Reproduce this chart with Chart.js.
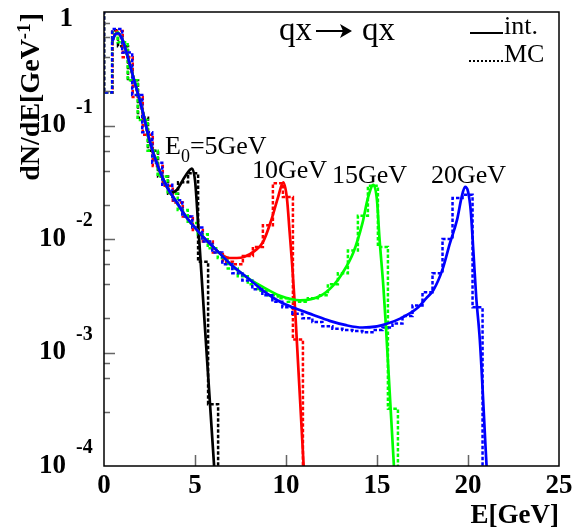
<!DOCTYPE html>
<html>
<head>
<meta charset="utf-8">
<script src="https://cdn.jsdelivr.net/npm/chart.js@4.4.1/dist/chart.umd.min.js"></script>
<style>
html, body { margin: 0; padding: 0; background: #fff; }
</style>
</head>
<body>
<canvas id="chart" width="573" height="531"></canvas>
<script>
// 1. data (E in GeV, dN/dE in 1/GeV)

// solid curves (int.) - shared low-energy part, then one tail per E0
const sharedE = [0.45, 0.6, 0.78, 1.0, 1.15, 1.6, 2.1, 2.5, 3.0, 3.5];
const sharedV = [0.55, 0.63, 0.65, 0.575, 0.49, 0.27, 0.138, 0.074, 0.042, 0.028];

const blackTailE = [3.7, 4.0, 4.45, 4.83, 5.0, 5.17, 5.27, 6.05, 6.15];
const blackTailV = [0.0255, 0.027, 0.0355, 0.0417, 0.033, 0.0138, 0.0079, 0.0001, 0.00006];

const redTailE = [4.0, 4.5, 5.0, 5.5, 6.0, 6.5, 6.9, 7.3, 7.65, 8.3, 8.75, 9.2, 9.55, 9.85, 10.05, 10.2, 10.35, 10.5, 10.97, 11.05];
const redTailV = [0.021, 0.0158, 0.0126, 0.0102, 0.0085, 0.0072, 0.0068, 0.0068, 0.0069, 0.0079, 0.0095, 0.0148, 0.0229, 0.0316, 0.0229, 0.0115, 0.0056, 0.0024, 0.0001, 0.00006];

const greenTailE = [4.0, 4.5, 5.0, 5.5, 6.0, 6.5, 7.0, 7.85, 8.7, 9.67, 10.77, 11.9, 12.6, 13.1, 13.7, 14.2, 14.5, 14.8, 15.0, 15.13, 15.35, 15.49, 15.93, 16.0];
const greenTailV = [0.021, 0.0158, 0.0126, 0.0102, 0.0085, 0.0071, 0.0059, 0.0046, 0.0038, 0.00316, 0.00288, 0.00316, 0.0039, 0.005, 0.0076, 0.0138, 0.0229, 0.03, 0.0219, 0.0105, 0.0038, 0.0017, 0.0001, 0.00006];

const blueTailE = [4.0, 4.5, 5.0, 5.5, 6.0, 6.5, 7.0, 7.85, 8.7, 9.67, 10.5, 11.5, 12.4, 13.3, 14.2, 15.0, 15.5, 16.3, 17.2, 17.7, 18.1, 18.6, 19.0, 19.4, 19.65, 19.84, 20.0, 20.15, 20.3, 20.45, 20.65, 21.02, 21.1];
const blueTailV = [0.021, 0.0158, 0.0126, 0.0102, 0.0085, 0.0071, 0.0059, 0.0046, 0.00355, 0.0028, 0.00245, 0.00214, 0.0019, 0.00174, 0.00166, 0.0017, 0.00178, 0.002, 0.00245, 0.003, 0.00355, 0.0054, 0.0091, 0.0148, 0.0234, 0.0288, 0.0263, 0.0178, 0.0076, 0.0031, 0.00129, 0.0001, 0.00006];

// MC histograms - bin edges and bin contents
const blackMcEdges = [0, 0.45, 0.77, 1.32, 1.87, 2.42, 2.97, 3.52, 4.07, 4.62, 5.17, 5.72, 6.27];
const blackMcVals = [0.195, 0.69, 0.5, 0.25, 0.117, 0.06, 0.0355, 0.025, 0.0316, 0.038, 0.0063, 0.00035];

const redMcEdges = [0, 0.48, 1.03, 1.58, 2.13, 2.68, 3.23, 3.78, 4.33, 4.88, 5.43, 5.98, 6.53, 7.08, 7.63, 8.18, 8.73, 9.28, 9.83, 10.38, 10.93];
const redMcVals = [0.195, 0.68, 0.4, 0.178, 0.083, 0.044, 0.0295, 0.021, 0.0158, 0.012, 0.0095, 0.0076, 0.0063, 0.006, 0.0071, 0.0085, 0.0132, 0.031, 0.0234, 0.0013];

const greenMcEdges = [0, 0.45, 0.75, 1.3, 1.85, 2.4, 2.95, 3.5, 4.05, 4.6, 5.15, 5.7, 6.25, 6.8, 7.35, 7.9, 8.45, 9.0, 9.55, 10.1, 10.65, 11.2, 11.75, 12.3, 12.85, 13.4, 13.95, 14.5, 15.05, 15.6, 16.15];
const greenMcVals = [0.195, 0.66, 0.54, 0.25, 0.112, 0.06, 0.0355, 0.025, 0.018, 0.0138, 0.011, 0.0083, 0.0068, 0.0055, 0.0047, 0.004, 0.0035, 0.0032, 0.003, 0.0028, 0.0028, 0.003, 0.0032, 0.004, 0.005, 0.0079, 0.016, 0.0295, 0.0085, 0.00032];

const blueMcEdges = [0, 0.45, 1.0, 1.55, 2.1, 2.65, 3.2, 3.75, 4.3, 4.85, 5.4, 5.95, 6.5, 7.05, 7.6, 8.15, 8.7, 9.25, 9.8, 10.35, 10.9, 11.45, 12.0, 12.55, 13.1, 13.65, 14.2, 14.75, 15.3, 15.85, 16.4, 16.95, 17.5, 18.05, 18.6, 19.15, 19.7, 20.25, 20.8];
const blueMcVals = [0.195, 0.71, 0.44, 0.186, 0.087, 0.047, 0.03, 0.022, 0.0158, 0.0126, 0.0095, 0.0076, 0.006, 0.005, 0.0043, 0.0036, 0.0032, 0.0028, 0.0025, 0.0022, 0.002, 0.00186, 0.0017, 0.00162, 0.00158, 0.00155, 0.00151, 0.00158, 0.00166, 0.0018, 0.0021, 0.0026, 0.0034, 0.005, 0.01, 0.023, 0.0245, 0.0025];

// histogram outline goes off-scale at both ends
const HIST_TOP = 2;
const HIST_FLOOR = 1e-6;

// axis labels
const xTickValues = [0, 5, 10, 15, 20, 25];
const yDecades = [0, -1, -2, -3, -4];
const peakLabels = ['10GeV', '15GeV', '20GeV'];

const SERIF = '"Liberation Serif", "Times New Roman", serif';
const COLORS = { black: '#000000', red: '#ff0000', green: '#00ff00', blue: '#0000ff' };

// 2. helpers to turn arrays into points
function curvePoints(es, vs) {
    return es.map((e, i) => ({ x: e, y: vs[i] }));
}

function histPoints(edges, vals) {
    const pts = [{ x: edges[0], y: HIST_TOP }];
    vals.forEach((v, i) => pts.push({ x: edges[i], y: v }));
    pts.push({ x: edges[edges.length - 1], y: HIST_FLOOR });
    return pts;
}

function solid(color, es, vs, order) {
    return {
        data: curvePoints(sharedE.concat(es), sharedV.concat(vs)),
        borderColor: color,
        borderWidth: 2.7,
        pointRadius: 0,
        cubicInterpolationMode: 'monotone',
        fill: false,
        order: order
    };
}

function mc(color, edges, vals, order) {
    return {
        data: histPoints(edges, vals),
        borderColor: color,
        borderWidth: 2.5,
        borderDash: [3.5, 2],
        pointRadius: 0,
        stepped: true,
        fill: false,
        order: order
    };
}

// 3. frame, ticks and texts in ROOT style
const rootFrame = {
    id: 'rootFrame',
    afterDraw(chart) {
        const { ctx, chartArea: a, scales: { x, y } } = chart;
        ctx.save();

        // ticks pointing inward
        ctx.strokeStyle = '#666';
        ctx.lineWidth = 1.5;
        ctx.beginPath();
        y.ticks.forEach(t => {
            const py = Math.round(y.getPixelForValue(t.value)) + 0.5;
            if (py <= a.top + 1 || py >= a.bottom - 1) return;
            const lg = Math.log10(t.value);
            const len = Math.abs(lg - Math.round(lg)) < 1e-6 ? 11 : 6;
            ctx.moveTo(a.left, py);
            ctx.lineTo(a.left + len, py);
        });
        xTickValues.forEach(v => {
            const px = Math.round(x.getPixelForValue(v)) + 0.5;
            if (px <= a.left + 1 || px >= a.right - 1) return;
            ctx.moveTo(px, a.bottom);
            ctx.lineTo(px, a.bottom - 11);
        });
        ctx.stroke();

        // frame
        ctx.strokeStyle = '#000';
        ctx.lineWidth = 1.5;
        ctx.strokeRect(a.left, a.top, a.right - a.left, a.bottom - a.top);

        ctx.fillStyle = '#000';

        // x tick labels
        ctx.font = `bold 27px ${SERIF}`;
        ctx.textAlign = 'center';
        ctx.textBaseline = 'middle';
        xTickValues.forEach(v => {
            ctx.fillText(String(v), x.getPixelForValue(v), a.bottom + 20);
        });

        // y tick labels: 1, 10^-1 ...
        yDecades.forEach(k => {
            const py = y.getPixelForValue(Math.pow(10, k));
            ctx.font = `bold 27px ${SERIF}`;
            ctx.textBaseline = 'middle';
            ctx.textAlign = 'right';
            if (k === 0) {
                ctx.fillText('1', a.left - 31, py + 7);
                return;
            }
            ctx.fillText('10', a.left - 38, py);
            ctx.font = `bold 20px ${SERIF}`;
            ctx.textAlign = 'left';
            ctx.fillText(String(k), a.left - 28, py - 18);
        });

        // x title
        ctx.font = `bold 27px ${SERIF}`;
        ctx.textAlign = 'right';
        ctx.textBaseline = 'middle';
        ctx.fillText('E[GeV]', a.right, a.bottom + 50);

        // y title, rotated
        ctx.save();
        ctx.translate(39, a.top + 1);
        ctx.rotate(-Math.PI / 2);
        ctx.textAlign = 'left';
        ctx.textBaseline = 'alphabetic';
        const mainFont = `bold 28px ${SERIF}`;
        const supFont = `bold 19px ${SERIF}`;
        ctx.font = mainFont;
        const wMain = ctx.measureText('dN/dE[GeV').width;
        const wClose = ctx.measureText(']').width;
        ctx.font = supFont;
        const wSup = ctx.measureText('-1').width;
        const x0 = -(wMain + wSup + wClose + 1);
        ctx.font = mainFont;
        ctx.fillText('dN/dE[GeV', x0, 0);
        ctx.font = supFont;
        ctx.fillText('-1', x0 + wMain, -9);
        ctx.font = mainFont;
        ctx.fillText(']', x0 + wMain + wSup + 1, 0);
        ctx.restore();

        // process title
        ctx.font = `33px ${SERIF}`;
        ctx.textAlign = 'left';
        ctx.textBaseline = 'alphabetic';
        ctx.fillText('qx', 279, 40);
        ctx.fillText('qx', 362, 40);
        // arrow
        ctx.lineWidth = 2;
        ctx.beginPath();
        ctx.moveTo(316, 31);
        ctx.lineTo(349, 31);
        ctx.stroke();
        ctx.beginPath();
        ctx.moveTo(352, 31);
        ctx.lineTo(340, 24);
        ctx.lineTo(343, 31);
        ctx.lineTo(340, 38);
        ctx.closePath();
        ctx.fill();

        // legend
        ctx.font = `26px ${SERIF}`;
        ctx.fillText('int.', 504, 34);
        ctx.fillText('MC', 504, 62);
        ctx.strokeStyle = '#000';
        ctx.lineWidth = 2;
        ctx.beginPath();
        ctx.moveTo(470, 33);
        ctx.lineTo(503, 33);
        ctx.stroke();
        ctx.setLineDash([2, 2]);
        ctx.beginPath();
        ctx.moveTo(469, 61);
        ctx.lineTo(503, 61);
        ctx.stroke();
        ctx.setLineDash([]);

        // peak labels
        ctx.font = `26px ${SERIF}`;
        ctx.fillText('E', 165, 154);
        let w = ctx.measureText('E').width;
        ctx.font = `18px ${SERIF}`;
        ctx.fillText('0', 165 + w, 162);
        const w0 = ctx.measureText('0').width;
        ctx.font = `26px ${SERIF}`;
        ctx.fillText('=5GeV', 165 + w + w0, 154);
        ctx.fillText(peakLabels[0], 252, 178);
        ctx.fillText(peakLabels[1], 332, 183);
        ctx.fillText(peakLabels[2], 431, 183);

        ctx.restore();
    }
};

// 4. chart
function initChart() {
    const ctx = document.getElementById('chart').getContext('2d');
    new Chart(ctx, {
        type: 'line',
        data: {
            datasets: [
                mc(COLORS.black, blackMcEdges, blackMcVals, 8),
                mc(COLORS.red, redMcEdges, redMcVals, 7),
                mc(COLORS.green, greenMcEdges, greenMcVals, 6),
                mc(COLORS.blue, blueMcEdges, blueMcVals, 5),
                solid(COLORS.black, blackTailE, blackTailV, 4),
                solid(COLORS.red, redTailE, redTailV, 3),
                solid(COLORS.green, greenTailE, greenTailV, 2),
                solid(COLORS.blue, blueTailE, blueTailV, 1)
            ]
        },
        options: {
            responsive: false,
            animation: false,
            layout: { padding: { left: 104, right: 14, top: 12, bottom: 65 } },
            plugins: {
                legend: { display: false },
                tooltip: { enabled: false }
            },
            scales: {
                x: { type: 'linear', min: 0, max: 25, display: false },
                y: { type: 'logarithmic', min: 1e-4, max: 1, display: false }
            }
        },
        plugins: [rootFrame]
    });
}

initChart();
</script>
</body>
</html>
